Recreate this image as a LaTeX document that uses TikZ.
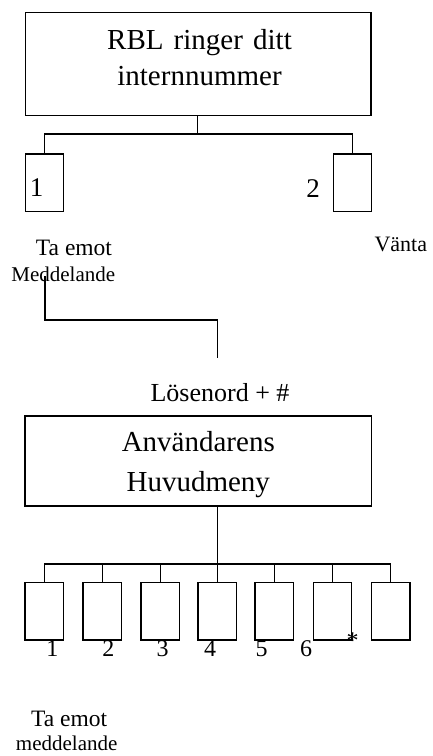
\documentclass[tikz,border=0pt]{standalone}
\usepackage{fontspec}
\setmainfont{Liberation Serif}
\begin{document}
\begin{tikzpicture}[x=1pt,y=-1pt,
  box/.style={draw,line width=1.2pt,inner sep=0pt},
  conn/.style={line width=1.1pt},
  txt/.style={inner sep=0pt,anchor=base},
  big/.style={inner sep=0pt,align=center},
  small/.style={txt,font=\fontsize{22}{26}\selectfont},
  tasmall/.style={txt,font=\fontsize{23.5}{26}\selectfont},
  medsmall/.style={txt,font=\fontsize{21}{26}\selectfont}]
\useasboundingbox (0,0) rectangle (432,756);
% top box
\node[box,minimum width=345.3pt,minimum height=103.4pt] (top) at (198.3,64) {};
\node[big,font=\fontsize{29}{36}\selectfont] (toptxt) at (199.5,57.5) {RBL\hspace{0.35em}ringer\hspace{0.35em}ditt\\internnummer};
\node[box,minimum width=37.6pt,minimum height=57.7pt] (a1) at (44.5,182.9) {};
\node[box,minimum width=38.2pt,minimum height=57.7pt] (a2) at (352.6,182.8) {};
\coordinate (j1) at (197.7,134);
\draw[conn] (top.south -| j1) -- (j1);
\draw[conn] (a1.north) |- (j1) -| (a2.north);
\node[txt,font=\fontsize{27}{30}\selectfont] (n1) at (36.7,196.7) {1};
\node[txt,font=\fontsize{27}{30}\selectfont] (n2) at (313,197.7) {2};
\node[tasmall] (ta1) at (74,255) {Ta emot};
\node[medsmall] (med1) at (63.3,281.7) {Meddelande};
\node[small] (vanta) at (400.8,251.7) {Vänta};
\coordinate (m1) at (45,276);
\coordinate (m2) at (217.7,358.3);
\draw[conn] (m1) -- ++(0,44) -| (m2);
\node[txt,font=\fontsize{26}{30}\selectfont] (pw) at (220,401.7) {Lösenord + \#};
% menu box
\node[box,minimum width=346.7pt,minimum height=90pt] (menu) at (198.3,461) {};
\node[big,font=\fontsize{29}{40}\selectfont] (menutxt) at (198.3,465) {Användarens\\Huvudmeny};
\foreach \i/\x in {1/44.2,2/102.2,3/160.2,4/217.3,5/274.3,6/332.5,7/390.8}
  \node[box,minimum width=38.5pt,minimum height=57.7pt] (b\i) at (\x,611.2) {};
\coordinate (j2) at (217.3,564);
\draw[conn] (b4.north |- menu.south) -- (b4.north);
\draw[conn] (b1.north) |- (j2) -| (b7.north);
\foreach \i in {2,3,5,6}
  \draw[conn] (b\i.north) -- (b\i.north |- j2);
\foreach \i/\x in {1/52.3,2/108.3,3/162.7,4/210,5/261.7,6/306}
  \node[txt,font=\fontsize{24}{28}\selectfont] (d\i) at (\x,656.7) {\i};
\node[txt,font=\fontsize{24}{28}\selectfont] (star) at (352.7,648) {*};
\node[tasmall] (ta2) at (69.2,726.7) {Ta emot};
\node[medsmall] (med2) at (66.7,750) {meddelande};
\end{tikzpicture}
\end{document}
